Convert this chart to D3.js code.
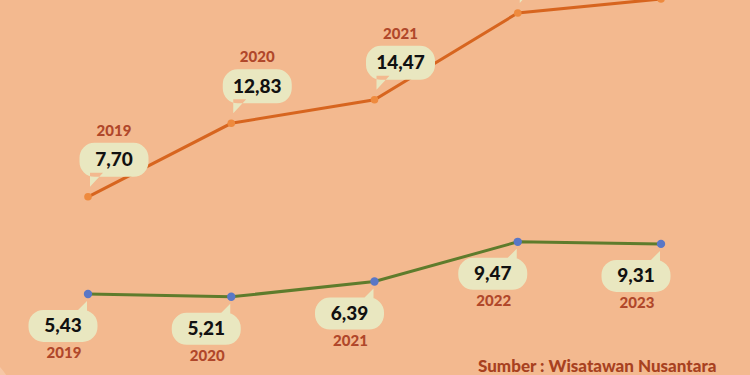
<!DOCTYPE html>
<html>
<head>
<meta charset="utf-8">
<script src="https://cdn.jsdelivr.net/npm/d3@7"></script>
<style>
  html, body { margin: 0; padding: 0; background: #F3B98F; }
  svg { display: block; font-family: Lato, "Open Sans", sans-serif; }
</style>
</head>
<body>
<svg id="chart"></svg>
<script>
var years = ["2019", "2020", "2021", "2022", "2023"];
var upperValues = [7.70, 12.83, 14.47, 20.53, 21.51];   // 2022, 2023 run off the top
var lowerValues = [5.43, 5.21, 6.39, 9.47, 9.31];
var sourceText = "Sumber : Wisatawan Nusantara";

var width = 750, height = 375;

var svg = d3.select("#chart")
    .attr("width", width)
    .attr("height", height);

svg.append("rect")
    .attr("width", width)
    .attr("height", height)
    .attr("fill", "#F3B98F");

// light patches in the bottom corners of the original
svg.append("circle").attr("cx", -60).attr("cy", 420).attr("r", 80).attr("fill", "#F6C7A6");
svg.append("circle").attr("cx", 790).attr("cy", 410).attr("r", 50).attr("fill", "#F7E4D6");

var x = d3.scalePoint()
    .domain(years)
    .range([88, 661]);

// each series has its own vertical band
var yUpper = d3.scaleLinear().domain([5, 25]).range([235.5, -51.1]);
var yLower = d3.scaleLinear().domain([5, 10]).range([299.5, 235]);

function fmt(v) { return d3.format(".2f")(v).replace(".", ","); }

var bubbleFill = "#E9E7C0";
var yearColor = "#B0472A";

function drawSeries(values, y, lineColor, dotColor, below) {
    var pts = years.map(function (d, i) { return { year: d, value: values[i], px: x(d), py: y(values[i]) }; });

    svg.append("path")
        .datum(pts)
        .attr("fill", "none")
        .attr("stroke", lineColor)
        .attr("stroke-width", 3)
        .attr("d", d3.line().x(function (d) { return d.px; }).y(function (d) { return d.py; }));

    svg.append("g").selectAll("circle")
        .data(pts).enter().append("circle")
        .attr("cx", function (d) { return d.px; })
        .attr("cy", function (d) { return d.py; })
        .attr("r", below ? 4.2 : 3.8)
        .attr("fill", dotColor);

    var bw = 69, bh = below ? 32 : 34;
    var g = svg.append("g").selectAll("g")
        .data(pts).enter().append("g");

    g.append("path")
        .attr("fill", bubbleFill)
        .attr("d", function (d) {
            var p = d3.path();
            var cx, top, tipX, tipY, b1, b2, edge;
            if (below) {
                cx = d.px - 25; top = d.py + 16;
                tipX = d.px - 1; tipY = d.py + 7;
                b1 = d.px - 14; b2 = d.px - 1; edge = top + 4;
            } else {
                cx = d.px + 26; top = d.py - 20 - bh;
                tipX = d.px + 2; tipY = d.py - 10;
                b1 = d.px + 2; b2 = d.px + 15; edge = top + bh - 4;
            }
            var l = cx - bw / 2, r = 15;
            // rounded body
            p.moveTo(l + r, top);
            p.lineTo(l + bw - r, top);
            p.arcTo(l + bw, top, l + bw, top + r, r);
            p.lineTo(l + bw, top + bh - r);
            p.arcTo(l + bw, top + bh, l + bw - r, top + bh, r);
            p.lineTo(l + r, top + bh);
            p.arcTo(l, top + bh, l, top + bh - r, r);
            p.lineTo(l, top + r);
            p.arcTo(l, top, l + r, top, r);
            p.closePath();
            // tail
            p.moveTo(b1, edge);
            p.lineTo(tipX, tipY);
            p.lineTo(b2, edge);
            p.closePath();
            return p.toString();
        });

    // labels whose bubble sits above the frame are not visible in the original
    var shown = g.filter(function (d) { return below || d.py - 20 - bh - 25 > 0; });

    shown.append("text")
        .attr("x", function (d) { return below ? d.px - 25 : d.px + 26; })
        .attr("y", function (d) { return below ? d.py + 16 + bh / 2 + 6.5 : d.py - 20 - bh / 2 + 6.5; })
        .attr("text-anchor", "middle")
        .attr("font-size", 19)
        .attr("font-weight", 900)
        .attr("fill", "#111")
        .text(function (d) { return fmt(d.value); });

    shown.append("text")
        .attr("x", function (d) { return below ? d.px - 24 : d.px + 26; })
        .attr("y", function (d) { return below ? d.py + 16 + bh + 16 : d.py - 20 - bh - 7; })
        .attr("text-anchor", "middle")
        .attr("font-size", 15)
        .attr("font-weight", 900)
        .attr("fill", yearColor)
        .text(function (d) { return d.year; });
}

drawSeries(upperValues, yUpper, "#D7651F", "#EE8A3E", false);
drawSeries(lowerValues, yLower, "#5E7C2C", "#5A77C6", true);

svg.append("text")
    .attr("x", 478)
    .attr("y", 372)
    .attr("font-size", 17)
    .attr("font-weight", 900)
    .attr("fill", "#A8411F")
    .text(sourceText);
</script>
</body>
</html>
